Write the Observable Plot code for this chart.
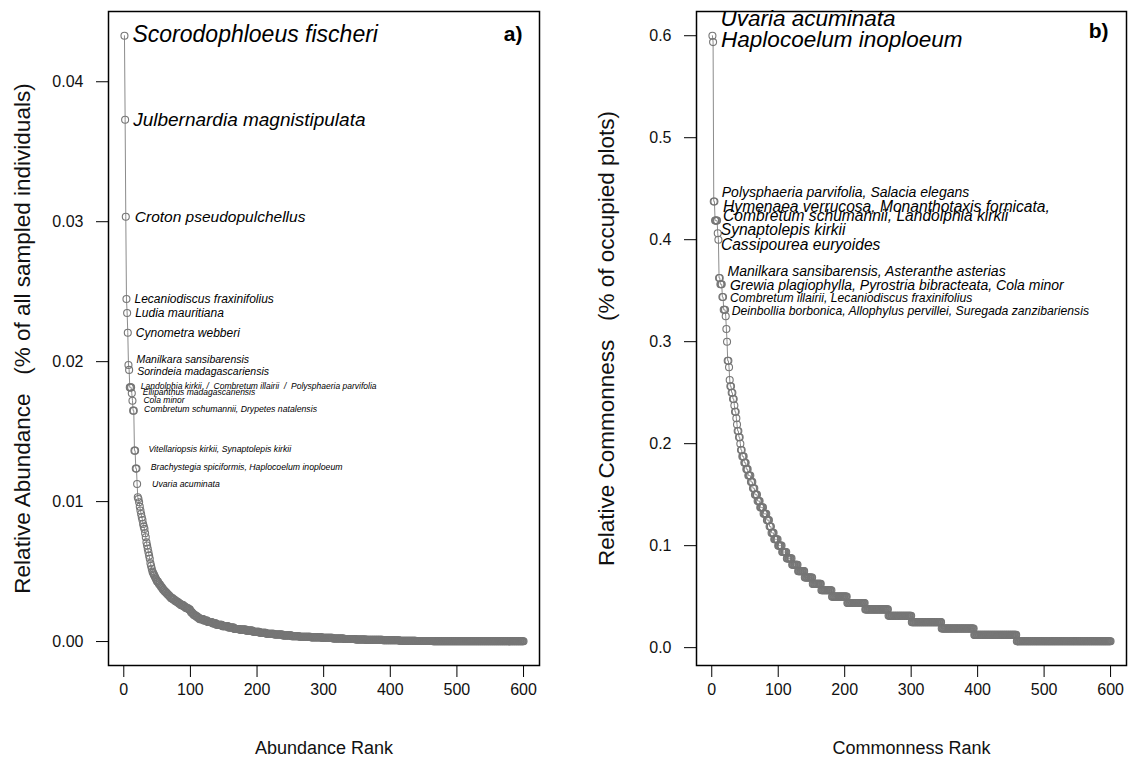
<!DOCTYPE html>
<html><head><meta charset="utf-8">
<script src="https://cdn.jsdelivr.net/npm/d3@7"></script>
<script src="https://cdn.jsdelivr.net/npm/@observablehq/plot@0.6"></script>
<style>
html,body{margin:0;padding:0;background:#fff;}
#chart{position:relative;width:1129px;height:771px;overflow:hidden;font-family:"Liberation Sans",Arial,sans-serif;}
#chart svg{position:absolute;top:0;}
#chart svg text{white-space:pre;}
</style></head><body><div id="chart"></div>
<script>
// ---------- DATA ----------
// Panel a: relative abundance by rank, as (value, number of species with that value) runs
const abundanceValues = [
  0.04329,0.03729,0.03036,0.02448,0.02348,0.02207,0.01976,0.01941,0.01816,0.01774,0.01721,0.0165,0.01364,0.01236,0.01126,
  0.01031,0.01019,0.00995,0.00964,0.00936,0.00912,0.00888,0.00869,0.0084,0.00821,0.00805,0.00774,0.00745,0.00709,0.00686,0.00662,0.00638,0.00614,0.00591,0.00559,
  0.0054,0.0052,0.0050,0.0049,0.0048,0.0047,0.0046,0.0045,0.0044,0.0043,0.0042,0.0041,0.0040,0.0039,0.0038,0.0037,
  0.0036,0.0035,0.0034,0.0033,0.0032,0.0031,0.0030,0.0029,0.0028,0.0027,0.0026,0.0025,0.0024,0.0023,0.0022,
  0.0021,0.0020,0.0019,0.0018,0.0017,
  0.0016,0.0015,0.0014,0.0013,
  0.0012,0.0011,0.0010,0.0009,
  0.00085,0.00078,0.00070,0.00063,
  0.00056,0.00050,0.00044,0.00038,
  0.00034,0.00030,0.00026,
  0.00022,0.00018,0.00015,
  0.00012,0.00009,
  0.00006,0.00004,
  0.00003,0.00002
];
const abundanceRunLengths = [
  1,1,1,1,1,1,1,1,3,1,1,2,2,2,1,
  1,1,1,1,1,1,1,1,1,1,1,1,1,1,1,1,1,1,1,1,
  1,1,1,1,1,1,1,1,1,2,1,2,1,2,1,2,
  2,2,2,2,2,3,3,3,3,3,4,3,4,3,1,
  2,2,3,3,3,
  6,6,7,6,
  9,9,9,8,
  10,10,10,10,
  12,13,13,12,
  17,17,16,
  17,17,16,
  25,25,
  25,25,
  40,97
];
const abundanceLabelText = [
  "Scorodophloeus fischeri","Julbernardia magnistipulata","Croton pseudopulchellus",
  "Lecaniodiscus fraxinifolius","Ludia mauritiana","Cynometra webberi",
  "Manilkara sansibarensis","Sorindeia madagascariensis",
  "Landolphia kirkii  /  Combretum illairii  /  Polysphaeria parvifolia",
  "Ellipanthus madagascariensis","Cola minor","Combretum schumannii, Drypetes natalensis",
  "Vitellariopsis kirkii, Synaptolepis kirkii","Brachystegia spiciformis, Haplocoelum inoploeum",
  "Uvaria acuminata"
];
const abundanceLabelRank = [1,2,3,4,5,6,7,8,9,12,13,14,16,18,20];

// Panel b: number of occupied plots (out of nPlots) by rank, as runs
const nPlots = 160;
const commonnessPlotCounts = [
  96,95,70,67,65,64,58,57,55,53,
  52,50,48,45,44,42,41,40,39,38,37,36,35,34,33,32,31,
  30,29,28,27,26,25,24,23,22,21,
  20,19,18,17,16,15,14,13,12,11,10,9,8,7,
  6,5,4,3,2,1
];
const commonnessRunLengths = [
  1,1,2,4,1,1,2,3,2,3,
  1,1,1,2,1,1,2,2,2,1,2,1,1,2,2,1,2,
  3,3,3,4,3,3,4,4,5,5,
  4,3,4,6,6,7,8,9,10,12,13,16,23,27,
  35,35,45,49,64,142
];
const commonnessLabelText = [
  "Uvaria acuminata","Haplocoelum inoploeum",
  "Polysphaeria parvifolia, Salacia elegans",
  "Hymenaea verrucosa, Monanthotaxis fornicata,",
  "Combretum schumannii, Landolphia kirkii",
  "Synaptolepis kirkii","Cassipourea euryoides",
  "Manilkara sansibarensis, Asteranthe asterias",
  "Grewia plagiophylla, Pyrostria bibracteata, Cola minor",
  "Combretum illairii, Lecaniodiscus fraxinifolius",
  "Deinbollia borbonica, Allophylus pervillei, Suregada zanzibariensis"
];
const commonnessLabelRank = [1,2,3,5,5,9,10,11,13,16,18];

const rankTicks = [0,100,200,300,400,500,600];
const abundanceTicks = [0,0.01,0.02,0.03,0.04];
const commonnessTicks = [0,0.1,0.2,0.3,0.4,0.5,0.6];

// ---------- BUILD ----------
function expand(values, runs, f) {
  const out = []; let rank = 1;
  values.forEach((v, i) => { for (let j = 0; j < runs[i]; j++) out.push({rank: rank++, value: f(v)}); });
  return out;
}
const abundance = expand(abundanceValues, abundanceRunLengths, v => v);
const commonness = expand(commonnessPlotCounts, commonnessRunLengths, k => k / nPlots);

function labelsFor(data, texts, ranks) {
  return texts.map((t, i) => ({text: t, rank: ranks[i], value: data[ranks[i] - 1].value}));
}
const labelsA = labelsFor(abundance, abundanceLabelText, abundanceLabelRank);
const labelsB = labelsFor(commonness, commonnessLabelText, commonnessLabelRank);

// label styling (dx px, dy px, font size px)
const styleA = [[8,-1,23],[8,0,19],[9,0,15.5],[8,0,12],[8,0,12],[8,0,12],[8,-5,10.5],[8,1.5,10.5],
  [11,-1.5,8.5],[11,-1,8.5],[11,0,8.5],[11,-1,8.7],[14,-1,8.7],[15,-1,8.7],[15,0,8.7]];
const styleB = [[8,-17,22.5],[8,-2,22.5],[8,-9,14],[8,-14,15.6],[8,-5,15.6],[3,-3,15.6],[2.5,5,15.6],
  [8.5,-6,14],[9.5,1.5,14],[7.5,1.5,12.2],[8,1,12.2]];

function rExtent(lo, hi) { const d = (hi - lo) * 0.04; return [lo - d, hi + d]; }

function panel(o) {
  const yDom = rExtent(d3.min(o.data, d => d.value), d3.max(o.data, d => d.value));
  const xDom = rExtent(1, o.data.length);
  const labelMarks = o.labels.map((l, i) => Plot.text([l], {
    x: "rank", y: "value", text: "text", textAnchor: "start", lineAnchor: "middle",
    dx: o.lstyle[i][0], dy: o.lstyle[i][1], fontSize: o.lstyle[i][2],
    fontStyle: "italic", fill: "#000"
  }));
  return Plot.plot({
    width: o.width, height: 771,
    marginLeft: o.marginLeft, marginRight: o.marginRight, marginTop: 11, marginBottom: 106,
    style: {fontFamily: "'Liberation Sans', Arial, sans-serif", color: "#111", background: "transparent", overflow: "visible"},
    x: {domain: xDom},
    y: {domain: yDom},
    marks: [
      Plot.line(o.data, {x: "rank", y: "value", stroke: "#8c8c8c", strokeWidth: 1}),
      Plot.dot(o.data, {x: "rank", y: "value", r: 3.5, stroke: "#767676", strokeWidth: 1.1, fill: "none"}),
      Plot.frame({stroke: "#000", strokeWidth: 1.5}),
      Plot.axisY({ticks: o.yTicks, tickFormat: o.yFormat, tickSize: 12, tickPadding: 13, fontSize: 16, label: null, stroke: "#000"}),
      Plot.axisX({ticks: rankTicks, tickFormat: d3.format("d"), tickSize: 12, tickPadding: 6, fontSize: 16, label: null, stroke: "#000"}),
      Plot.text([o.yTitle], {frameAnchor: "left", dx: o.yTitleDx, rotate: -90, textAnchor: "middle", lineAnchor: "middle", fontSize: 22.5, fill: "#111"}),
      Plot.text([o.xTitle], {frameAnchor: "bottom", dy: 83, textAnchor: "middle", lineAnchor: "middle", fontSize: 18, fill: "#111"}),
      Plot.text([o.tag], {frameAnchor: "top-right", dx: o.tagDx, dy: o.tagDy, textAnchor: "end", lineAnchor: "middle", fontWeight: "bold", fontSize: 21, fill: "#000"}),
      ...labelMarks
    ]
  });
}

const svgA = panel({
  data: abundance, labels: labelsA, lstyle: styleA,
  width: 560, marginLeft: 108, marginRight: 21,
  yTicks: abundanceTicks, yFormat: d3.format(".2f"),
  yTitle: "Relative Abundance   (% of all sampled individuals)", yTitleDx: -86,
  xTitle: "Abundance Rank", tag: "a)", tagDx: -17, tagDy: 23
});
const svgB = panel({
  data: commonness, labels: labelsB, lstyle: styleB,
  width: 569, marginLeft: 136, marginRight: 3,
  yTicks: commonnessTicks, yFormat: d3.format(".1f"),
  yTitle: "Relative Commonness   (% of occupied plots)", yTitleDx: -89.5,
  xTitle: "Commonness Rank", tag: "b)", tagDx: -18, tagDy: 20
});
svgA.style.left = "0px";
svgB.style.left = "560px";
const chart = document.getElementById("chart");
chart.appendChild(svgA);
chart.appendChild(svgB);
</script></body></html>
